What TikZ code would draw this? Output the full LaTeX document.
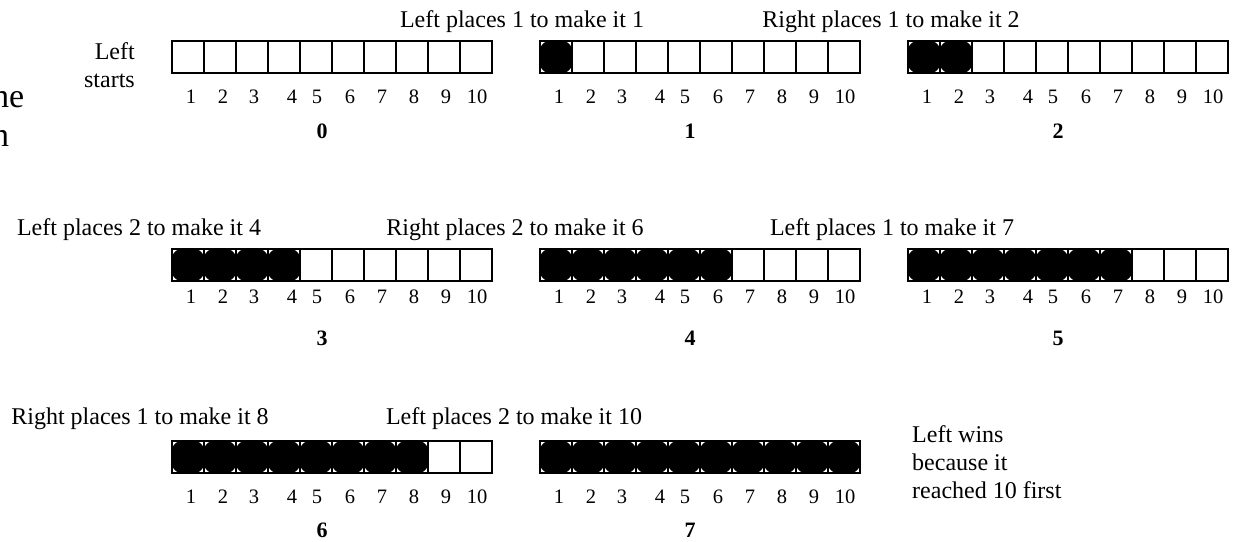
\documentclass[tikz,border=0pt]{standalone}
\usepackage{fontspec}
\setmainfont{Liberation Serif}
\tikzset{
  cell/.style={draw, line width=2pt, minimum width=32pt, minimum height=32pt, inner sep=0pt, outer sep=0pt},
  num/.style={font=\fontsize{20.5}{24}\selectfont, inner sep=0pt, anchor=base},
  idx/.style={font=\fontsize{22}{26}\selectfont\bfseries, inner sep=0pt, anchor=base},
  caption/.style={font=\fontsize{24}{28}\selectfont, inner sep=0pt, anchor=base},
  note/.style={font=\fontsize{24}{28}\selectfont, inner sep=0pt},
}
% #1 name, #2 x left, #3 y top, #4 filled, #5 numbers baseline, #6 index baseline, #7 index
\newcommand\drawstrip[7]{%
  \foreach \i in {1,...,10}{%
    \node[cell] (#1c\i) at ({#2+(\i-0.5)*32}, {#3+16}) {};
  }
  \ifnum#4>0
  \foreach \i in {1,...,#4}{%
    \begin{scope}
      \clip (#1c\i.south west) rectangle (#1c\i.north east);
      \fill[black] (#1c\i.center) circle (18.5pt);
    \end{scope}
  }
  \fi
  \foreach \o [count=\i] in {19,51,82,120,145,178,210,242,274,305}{%
    \node[num] (#1n\i) at ({#2+\o}, #5) {\i};
  }
  \node[idx] (#1l) at ({#2+150}, #6) {#7};
}
\begin{document}
\begin{tikzpicture}[x=1pt, y=-1pt]
\useasboundingbox (0,0) rectangle (1241,541);
% partial text at left edge
\node[font=\fontsize{34}{39}\selectfont, inner sep=0pt, align=left, anchor=north west] (cut) at (-8, 84) {he\\n};
% row 1
\node[note, align=right, anchor=north east] (start) at (135, 42.6) {Left\\starts};
\drawstrip{s0}{172}{41}{0}{103}{138}{0}
\drawstrip{s1}{540}{41}{1}{103}{138}{1}
\drawstrip{s2}{908}{41}{2}{103}{138}{2}
\node[caption] (c1) at (522, 27) {Left places 1 to make it 1};
\node[caption] (c2) at (891, 27) {Right places 1 to make it 2};
% row 2
\drawstrip{s3}{172}{249}{4}{303}{345}{3}
\drawstrip{s4}{540}{249}{6}{303}{345}{4}
\drawstrip{s5}{908}{249}{7}{303}{345}{5}
\node[caption] (c3) at (139, 235) {Left places 2 to make it 4};
\node[caption] (c4) at (515, 235) {Right places 2 to make it 6};
\node[caption] (c5) at (892, 235) {Left places 1 to make it 7};
% row 3
\drawstrip{s6}{172}{441}{8}{503}{537}{6}
\drawstrip{s7}{540}{441}{10}{503}{537}{7}
\node[caption] (c6) at (140, 424) {Right places 1 to make it 8};
\node[caption] (c7) at (514, 424) {Left places 2 to make it 10};
\node[note, align=left, anchor=north west] (win) at (912, 425.6) {Left wins\\because it\\reached 10 first};
\end{tikzpicture}
\end{document}
